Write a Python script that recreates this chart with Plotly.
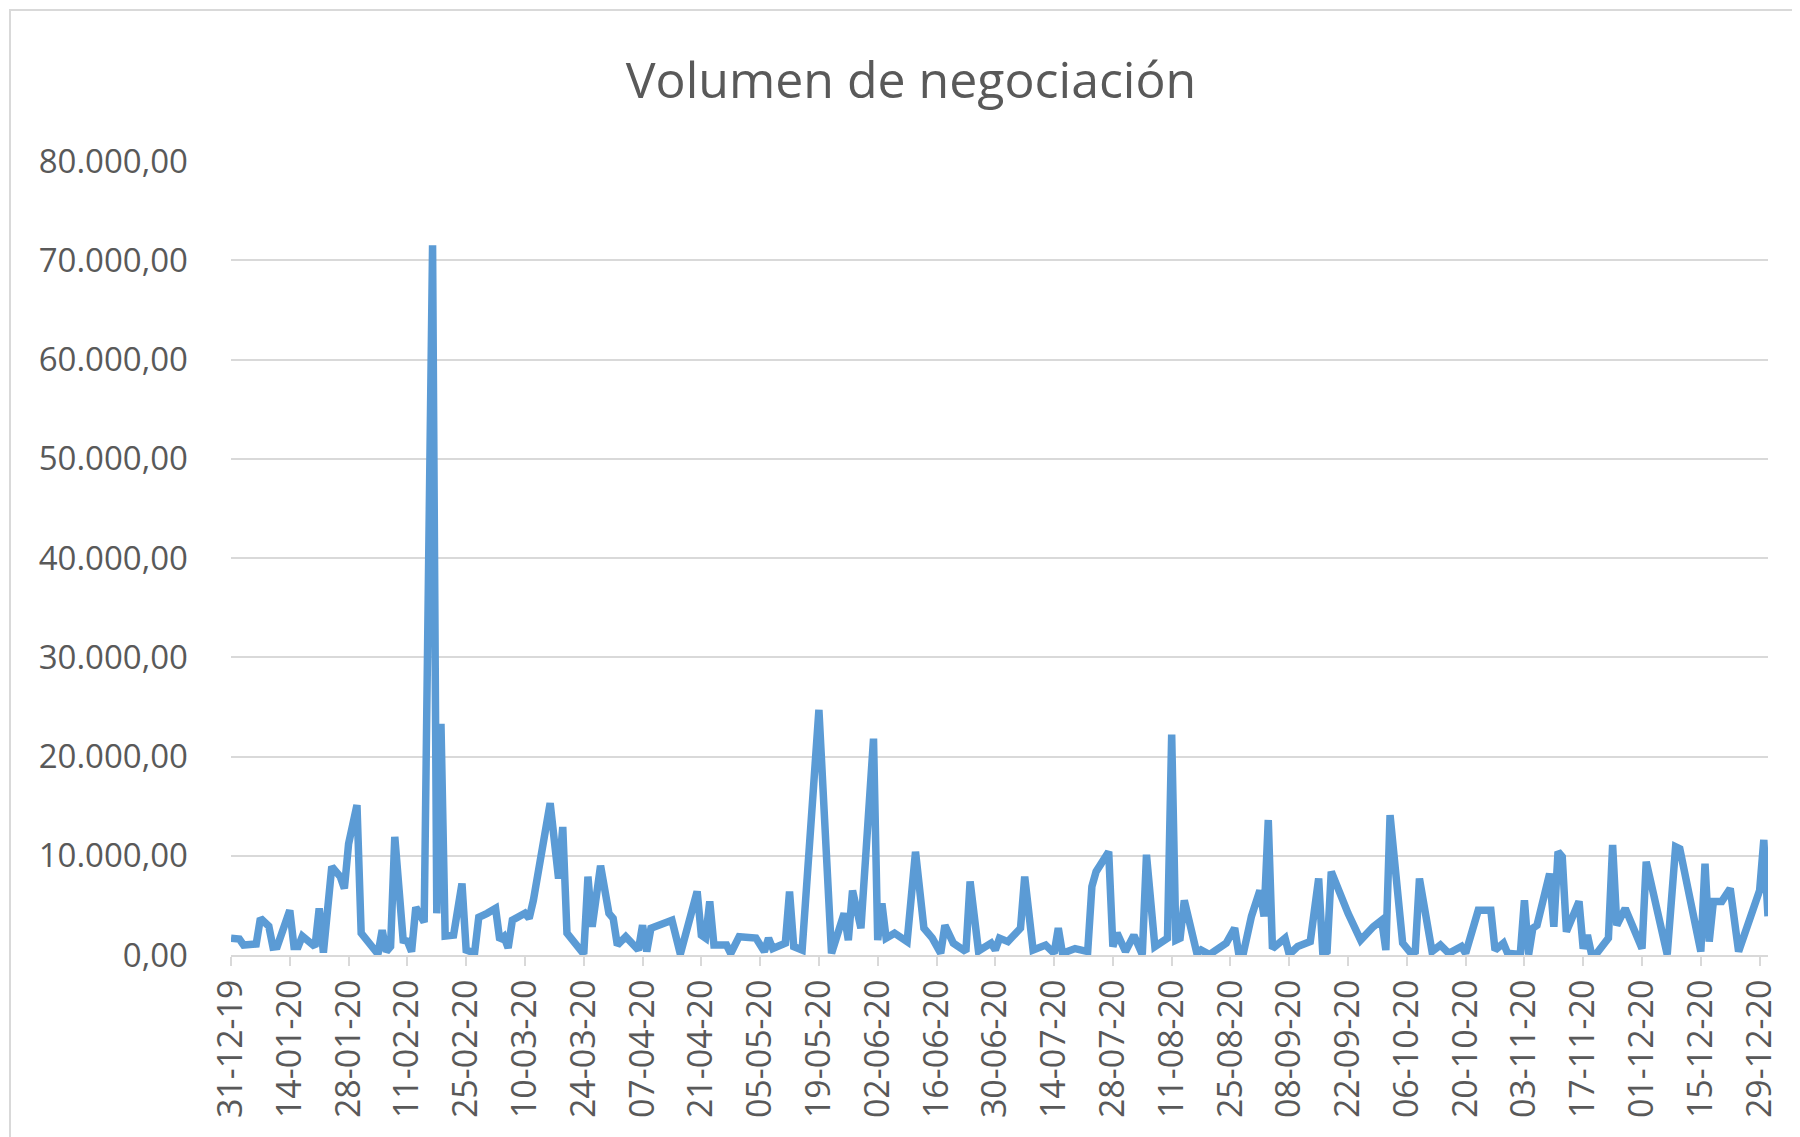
import plotly.graph_objects as go

dates = [
    "2019-12-31", "2020-01-02", "2020-01-03", "2020-01-06", "2020-01-07", "2020-01-09", "2020-01-10",
    "2020-01-11", "2020-01-14", "2020-01-15", "2020-01-16", "2020-01-17", "2020-01-20", "2020-01-21",
    "2020-01-22", "2020-01-24", "2020-01-26", "2020-01-27", "2020-01-28", "2020-01-30", "2020-01-31",
    "2020-02-02", "2020-02-04", "2020-02-05", "2020-02-06", "2020-02-07", "2020-02-08", "2020-02-10",
    "2020-02-11", "2020-02-12", "2020-02-13", "2020-02-15", "2020-02-17", "2020-02-18", "2020-02-19",
    "2020-02-20", "2020-02-22", "2020-02-24", "2020-02-25", "2020-02-27", "2020-02-28", "2020-03-01",
    "2020-03-03", "2020-03-04", "2020-03-05", "2020-03-06", "2020-03-07", "2020-03-10", "2020-03-11",
    "2020-03-12", "2020-03-16", "2020-03-18", "2020-03-19", "2020-03-20", "2020-03-24", "2020-03-25",
    "2020-03-26", "2020-03-28", "2020-03-30", "2020-03-31", "2020-04-01", "2020-04-03", "2020-04-06",
    "2020-04-07", "2020-04-08", "2020-04-09", "2020-04-14", "2020-04-16", "2020-04-20", "2020-04-21",
    "2020-04-22", "2020-04-23", "2020-04-24", "2020-04-27", "2020-04-28", "2020-04-30", "2020-05-04",
    "2020-05-06", "2020-05-07", "2020-05-08", "2020-05-11", "2020-05-12", "2020-05-13", "2020-05-15",
    "2020-05-19", "2020-05-22", "2020-05-25", "2020-05-26", "2020-05-27", "2020-05-29", "2020-06-01",
    "2020-06-02", "2020-06-03", "2020-06-04", "2020-06-06", "2020-06-09", "2020-06-11", "2020-06-13",
    "2020-06-15", "2020-06-17", "2020-06-18", "2020-06-20", "2020-06-23", "2020-06-24", "2020-06-26",
    "2020-06-29", "2020-06-30", "2020-07-01", "2020-07-03", "2020-07-06", "2020-07-07", "2020-07-09",
    "2020-07-12", "2020-07-14", "2020-07-15", "2020-07-16", "2020-07-19", "2020-07-22", "2020-07-23",
    "2020-07-24", "2020-07-27", "2020-07-28", "2020-07-29", "2020-07-31", "2020-08-02", "2020-08-04",
    "2020-08-05", "2020-08-07", "2020-08-10", "2020-08-11", "2020-08-12", "2020-08-13", "2020-08-14",
    "2020-08-17", "2020-08-18", "2020-08-20", "2020-08-24", "2020-08-26", "2020-08-27", "2020-08-28",
    "2020-08-30", "2020-09-01", "2020-09-02", "2020-09-03", "2020-09-04", "2020-09-07", "2020-09-08",
    "2020-09-10", "2020-09-13", "2020-09-15", "2020-09-16", "2020-09-17", "2020-09-18", "2020-09-22",
    "2020-09-25", "2020-09-28", "2020-09-30", "2020-10-01", "2020-10-02", "2020-10-05", "2020-10-07",
    "2020-10-08", "2020-10-09", "2020-10-12", "2020-10-14", "2020-10-16", "2020-10-19", "2020-10-20",
    "2020-10-21", "2020-10-23", "2020-10-26", "2020-10-27", "2020-10-29", "2020-10-30", "2020-11-02",
    "2020-11-03", "2020-11-04", "2020-11-05", "2020-11-06", "2020-11-09", "2020-11-10", "2020-11-11",
    "2020-11-12", "2020-11-13", "2020-11-16", "2020-11-17", "2020-11-18", "2020-11-19", "2020-11-20",
    "2020-11-23", "2020-11-24", "2020-11-25", "2020-11-27", "2020-12-01", "2020-12-02", "2020-12-07",
    "2020-12-09", "2020-12-10", "2020-12-15", "2020-12-16", "2020-12-17", "2020-12-18", "2020-12-20",
    "2020-12-22", "2020-12-24", "2020-12-29", "2020-12-30", "2020-12-31",
]

volumen = [
    1700, 1600, 1000, 1100, 3700, 2900, 800,
    850, 4500, 850, 850, 1900, 850, 4700,
    250, 8900, 7900, 6700, 11200, 15100, 2200,
    1200, 100, 2500, 350, 850, 11900, 1500,
    1400, 350, 4800, 3300, 71500, 4200, 23300,
    1900, 2000, 7200, 500, 200, 3800, 4200,
    4700, 1500, 1850, 700, 3500, 4200, 3700,
    5500, 15300, 7700, 12900, 2200, 100, 7900,
    2850, 9000, 4200, 3700, 1000, 1850, 500,
    3000, 350, 2700, 3500, 100, 6400, 2000,
    1700, 5400, 1000, 1000, 150, 1850, 1700,
    350, 1700, 650, 1200, 6400, 850, 500,
    24700, 170, 4200, 1500, 6500, 2700, 21800,
    1500, 5200, 1700, 2200, 1350, 10400, 2700,
    1700, 170, 3000, 1200, 350, 7400, 400,
    1200, 500, 1700, 1350, 2700, 7900, 500,
    1000, 170, 2700, 170, 650, 350, 6900,
    8400, 10400, 850, 2200, 350, 2000, 50,
    10100, 850, 1700, 22200, 1500, 1700, 5500,
    170, 500, 50, 1200, 2700, 50, 50,
    3900, 6500, 3900, 13600, 650, 1700, 50,
    850, 1350, 7700, 50, 350, 8400, 4200,
    1500, 2850, 3500, 500, 14100, 1200, 170,
    350, 7700, 350, 1000, 170, 850, 170,
    1850, 4500, 4500, 500, 1200, 170, 50,
    5500, 50, 2700, 3000, 8200, 2850, 10400,
    9900, 2350, 5400, 650, 2000, 50, 50,
    1700, 11100, 3000, 4700, 650, 9400, 50,
    10900, 10700, 350, 9200, 1350, 5400, 5400,
    6700, 350, 6500, 11600, 3900,
]

titulo = "Volumen de negociación"

# page has an 8px body margin; figure is laid out to compensate
OFF = 8
W, H = 1800 - OFF, 1137 - OFF
L, T = 231 - OFF, 161 - OFF
R = 1800 - 1768
B = 1137 - 955
pw, ph = W - L - R, H - T - B

fig = go.Figure(
    go.Scatter(
        x=dates, y=volumen, mode="lines",
        line=dict(color="#5b9bd5", width=7.5, shape="linear"),
        showlegend=False,
    )
)

grey = "#595959"
fig.update_layout(
    width=W, height=H,
    margin=dict(l=L, r=R, t=T, b=B),
    paper_bgcolor="white", plot_bgcolor="white",
    separators=",.",
    title=dict(
        text=titulo, x=(911 - OFF) / W, xanchor="center",
        y=1 - (80 - OFF) / H, yanchor="middle", yref="container",
        font=dict(family="Open Sans", size=50, color=grey),
    ),
    xaxis=dict(
        type="date",
        range=["2019-12-31", "2020-12-31"],
        tick0="2019-12-31", dtick=14 * 86400000,
        tickformat="%d-%m-%y", tickangle=-90,
        tickfont=dict(family="Open Sans", size=34, color=grey),
        showgrid=False, showline=True, linecolor="#d9d9d9", linewidth=2,
        ticks="outside", ticklen=9, tickwidth=2, tickcolor="#d9d9d9",
        ticklabelstandoff=0,
        zeroline=False,
    ),
    yaxis=dict(
        range=[0, 80000], dtick=10000, tick0=0,
        tickformat=",.2f",
        tickfont=dict(family="Open Sans", size=33, color=grey),
        showgrid=True, gridcolor="#d9d9d9", gridwidth=2,
        showline=False, zeroline=False, ticks="",
        ticklabelstandoff=42,
    ),
    shapes=[
        dict(type="rect", xref="paper", yref="paper",
             x0=(10 - 231) / pw, x1=(1815 - 231) / pw,
             y0=(955 - 1150) / ph, y1=(955 - 10) / ph,
             line=dict(color="#d9d9d9", width=2), fillcolor="rgba(0,0,0,0)", layer="below"),
    ],
)

fig.write_html("out.html")
